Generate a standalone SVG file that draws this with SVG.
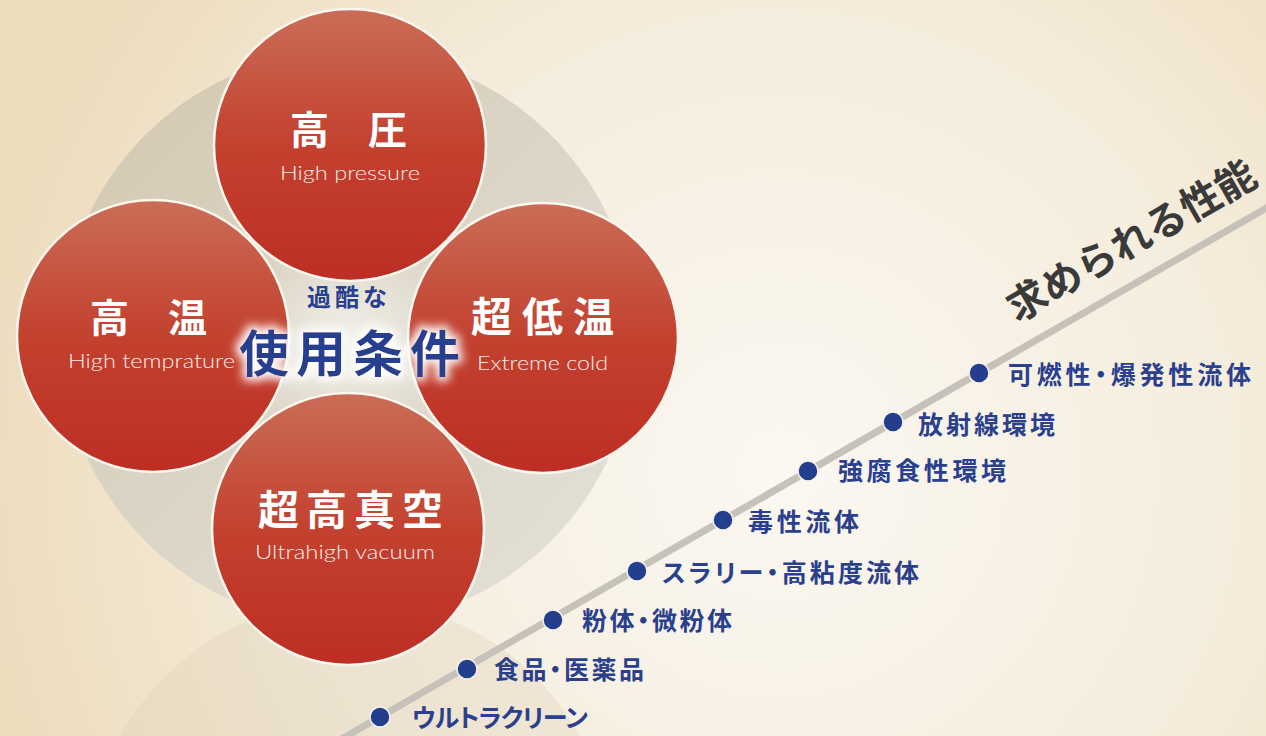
<svg xmlns="http://www.w3.org/2000/svg" width="1266" height="736" viewBox="0 0 1266 736">
  <defs>
    <radialGradient id="bg" cx="780" cy="470" r="820" gradientUnits="userSpaceOnUse">
      <stop offset="0" stop-color="#fbf8f2"/>
      <stop offset="0.55" stop-color="#f5eddd"/>
      <stop offset="1" stop-color="#eddcbc"/>
    </radialGradient>
    <linearGradient id="grayDisc" x1="0" y1="0" x2="1" y2="1">
      <stop offset="0" stop-color="#d3c7ae"/>
      <stop offset="0.6" stop-color="#ddd8cb"/>
      <stop offset="1" stop-color="#e4e1d8"/>
    </linearGradient>
    <linearGradient id="red" x1="0" y1="0" x2="0" y2="1">
      <stop offset="0" stop-color="#ca6d57"/>
      <stop offset="0.5" stop-color="#c3412f"/>
      <stop offset="1" stop-color="#bd2e24"/>
    </linearGradient>
    <radialGradient id="centerGlow" cx="0.5" cy="0.5" r="0.5">
      <stop offset="0" stop-color="#f2efe8"/>
      <stop offset="1" stop-color="#f2efe8" stop-opacity="0"/>
    </radialGradient>
    <filter id="glow" x="-12%" y="-30%" width="124%" height="160%">
      <feMorphology in="SourceAlpha" operator="dilate" radius="4" result="fat"/>
      <feGaussianBlur in="fat" stdDeviation="5" result="soft"/>
      <feFlood flood-color="#ffffff" flood-opacity="0.97"/>
      <feComposite in2="soft" operator="in" result="halo"/>
      <feMerge>
        <feMergeNode in="halo"/>
        <feMergeNode in="SourceGraphic"/>
      </feMerge>
    </filter>
    <style>
      .disc { fill: url(#red); stroke: #fbf6ee; stroke-width: 2.5; }
      .jp { font-family: "Noto Sans CJK JP", "Noto Sans", sans-serif; font-weight: 700; }
      .head { fill: #ffffff; font-size: 40px; }
      .sub { fill: #fbeee9; font-family: "Lato", "Open Sans", "Liberation Sans", sans-serif; font-weight: 300; font-size: 20.5px; }
      .blue { fill: #273f8f; }
      .label { fill: #2a3f8e; font-size: 25px; font-feature-settings: "palt"; }
      .dot { fill: #243e8e; stroke: #f5f1ea; stroke-width: 1.5; }
    </style>
  </defs>

  <rect id="background" x="0" y="0" width="1266" height="736" fill="url(#bg)"/>
  <circle id="lower-arc" cx="350" cy="862" r="262" fill="#d9ceb5" fill-opacity="0.3"/>
  <circle id="back-disc" cx="348" cy="338" r="287" fill="url(#grayDisc)"/>
  <ellipse cx="348" cy="338" rx="120" ry="110" fill="url(#centerGlow)"/>

  <g id="connectors">
    <line x1="338" y1="741" x2="1270" y2="206" stroke="#c6c2ba" stroke-width="7"/>
  </g>

  <g id="node-high-pressure">
    <circle class="disc" cx="350" cy="145" r="136"/>
    <text class="jp head" x="290" y="144" style="font-size:39px">高　圧</text>
    <text class="sub" x="280" y="180" textLength="140" lengthAdjust="spacingAndGlyphs">High pressure</text>
  </g>
  <g id="node-high-temp">
    <circle class="disc" cx="153" cy="336" r="136"/>
    <text class="jp head" x="90" y="332" style="font-size:39px">高　温</text>
    <text class="sub" x="68" y="368" textLength="167" lengthAdjust="spacingAndGlyphs">High temprature</text>
  </g>
  <g id="node-extreme-cold">
    <circle class="disc" cx="543" cy="338" r="135"/>
    <text class="jp head" x="471" y="332" style="font-size:41px" letter-spacing="10">超低温</text>
    <text class="sub" x="477" y="370" textLength="131" lengthAdjust="spacingAndGlyphs">Extreme cold</text>
  </g>
  <g id="node-ultrahigh-vacuum">
    <circle class="disc" cx="348" cy="529" r="136"/>
    <text class="jp head" x="258" y="525" style="font-size:41px" letter-spacing="7">超高真空</text>
    <text class="sub" x="255" y="559" textLength="180" lengthAdjust="spacingAndGlyphs">Ultrahigh vacuum</text>
  </g>

  <g id="node-center">
    <text class="jp blue" x="307" y="306" font-size="24" letter-spacing="4">過酷な</text>
    <text class="jp blue" x="239" y="372" font-size="50" letter-spacing="7" filter="url(#glow)">使用条件</text>
  </g>

  <g id="node-title">
    <text class="jp" x="0" y="0" font-size="40" fill="#3a3a3a" transform="translate(1017 323) rotate(-29.9)">求められる性能</text>
  </g>

  <g id="node-ultraclean">
    <circle class="dot" cx="380" cy="717" r="10"/>
    <text class="jp label" x="412" y="727" textLength="176" lengthAdjust="spacing">ウルトラクリーン</text>
  </g>
  <g id="node-food">
    <circle class="dot" cx="467" cy="669" r="10"/>
    <text class="jp label" x="494" y="679" textLength="150" lengthAdjust="spacing">食品・医薬品</text>
  </g>
  <g id="node-powder">
    <circle class="dot" cx="553" cy="620" r="10"/>
    <text class="jp label" x="582" y="630" textLength="150" lengthAdjust="spacing">粉体・微粉体</text>
  </g>
  <g id="node-slurry">
    <circle class="dot" cx="637" cy="571" r="10"/>
    <text class="jp label" x="662" y="582" textLength="257" lengthAdjust="spacing">スラリー・高粘度流体</text>
  </g>
  <g id="node-toxic">
    <circle class="dot" cx="723" cy="520" r="10"/>
    <text class="jp label" x="748" y="531" textLength="111" lengthAdjust="spacing">毒性流体</text>
  </g>
  <g id="node-corrosive">
    <circle class="dot" cx="808" cy="471" r="10"/>
    <text class="jp label" x="838" y="480" textLength="168" lengthAdjust="spacing">強腐食性環境</text>
  </g>
  <g id="node-radiation">
    <circle class="dot" cx="893" cy="422" r="10"/>
    <text class="jp label" x="918" y="434" textLength="137" lengthAdjust="spacing">放射線環境</text>
  </g>
  <g id="node-flammable">
    <circle class="dot" cx="979" cy="373" r="10"/>
    <text class="jp label" x="1008" y="384" textLength="243" lengthAdjust="spacing">可燃性・爆発性流体</text>
  </g>
</svg>
